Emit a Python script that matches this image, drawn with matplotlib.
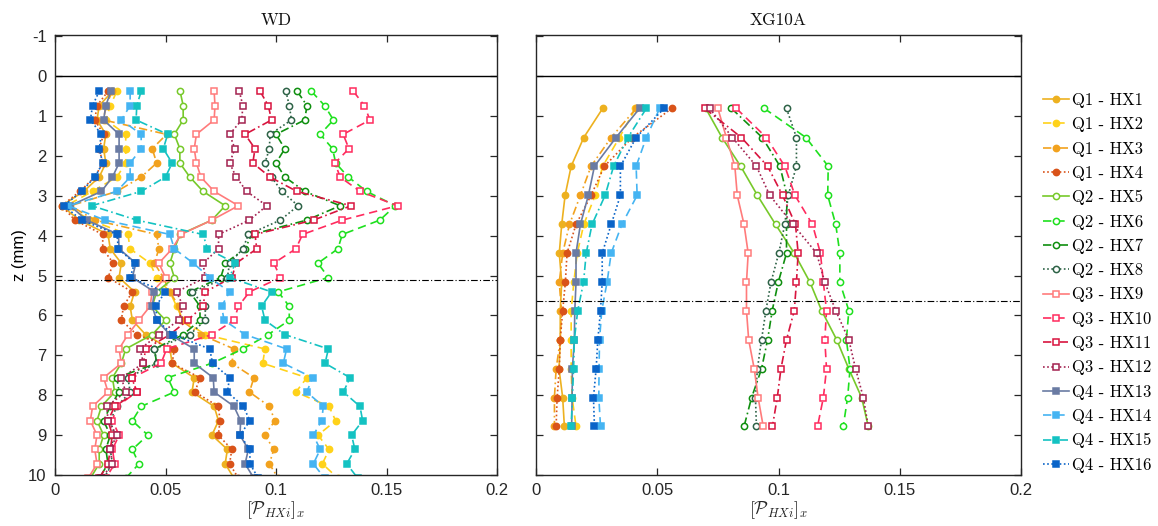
import matplotlib
matplotlib.use("Agg")
import matplotlib.pyplot as plt

plt.rcParams['mathtext.fontset'] = 'cm'
plt.rcParams['axes.unicode_minus'] = False

# ---------------- data ----------------
labels = ["Q1 - HX1", "Q1 - HX2", "Q1 - HX3", "Q1 - HX4",
          "Q2 - HX5", "Q2 - HX6", "Q2 - HX7", "Q2 - HX8",
          "Q3 - HX9", "Q3 - HX10", "Q3 - HX11", "Q3 - HX12",
          "Q4 - HX13", "Q4 - HX14", "Q4 - HX15", "Q4 - HX16"]

z_wd = [0.38, 0.74, 1.10, 1.46, 1.82, 2.18, 2.53, 2.89, 3.25, 3.61, 3.97, 4.33, 4.69, 5.05,
        5.41, 5.77, 6.12, 6.48, 6.84, 7.20, 7.56, 7.92, 8.28, 8.64, 9.00, 9.36, 9.72, 10.08]

wd_hx1 = [0.026, 0.020, 0.019, 0.023, 0.022, 0.023, 0.020, 0.013, 0.003, 0.011, 0.024, 0.025, 0.030, 0.029,
          0.036, 0.034, 0.035, 0.041, 0.052, 0.053, 0.063, 0.062, 0.072, 0.074, 0.071, 0.078, 0.077, 0.081]
wd_hx2 = [0.028, 0.025, 0.023, 0.032, 0.032, 0.032, 0.028, 0.017, 0.005, 0.016, 0.033, 0.034, 0.043, 0.046,
          0.052, 0.055, 0.058, 0.068, 0.095, 0.094, 0.114, 0.109, 0.124, 0.127, 0.119, 0.124, 0.121, 0.128]
wd_hx3 = [0.026, 0.023, 0.022, 0.0505, 0.044, 0.046, 0.039, 0.028, 0.007, 0.018, 0.046, 0.047, 0.045, 0.049,
          0.052, 0.056, 0.057, 0.066, 0.081, 0.080, 0.090, 0.088, 0.097, 0.0995, 0.095, 0.099, 0.097, 0.101]
wd_hx4 = [0.024, 0.019, 0.018, 0.022, 0.020, 0.0216, 0.018, 0.0113, 0.003, 0.009, 0.0216, 0.0216, 0.0264, 0.024,
          0.035, 0.031, 0.030, 0.037, 0.054, 0.053, 0.0656, 0.0633, 0.0739, 0.0747, 0.0739, 0.080, 0.079, 0.083]
wd_hx5 = [0.0566, 0.058, 0.058, 0.054, 0.0565, 0.0565, 0.061, 0.067, 0.077, 0.071, 0.0566, 0.054, 0.052, 0.054,
          0.046, 0.044, 0.050, 0.044, 0.032, 0.030, 0.026, 0.027, 0.021, 0.019, 0.022, 0.020, 0.020, 0.016]
wd_hx6 = [0.116, 0.122, 0.126, 0.120, 0.1256, 0.127, 0.1327, 0.141, 0.154, 0.147, 0.130, 0.128, 0.119, 0.1237,
          0.101, 0.106, 0.106, 0.0965, 0.085, 0.071, 0.051, 0.054, 0.039, 0.035, 0.042, 0.035, 0.038, 0.032]
wd_hx7 = [0.1096, 0.114, 0.113, 0.100, 0.104, 0.100, 0.104, 0.113, 0.129, 0.114, 0.089, 0.086, 0.077, 0.075,
          0.061, 0.0656, 0.0656, 0.058, 0.045, 0.046, 0.028, 0.029, 0.025, 0.022, 0.025, 0.023, 0.024, 0.020]
wd_hx8 = [0.1045, 0.106, 0.107, 0.0973, 0.097, 0.095, 0.098, 0.1026, 0.110, 0.102, 0.0875, 0.085, 0.079, 0.078,
          0.062, 0.068, 0.068, 0.061, 0.045, 0.046, 0.033, 0.034, 0.028, 0.025, 0.027, 0.025, 0.026, 0.022]
wd_hx9 = [0.072, 0.0724, 0.072, 0.064, 0.063, 0.064, 0.066, 0.072, 0.083, 0.071, 0.057, 0.053, 0.047, 0.050,
          0.044, 0.043, 0.038, 0.033, 0.029, 0.030, 0.022, 0.024, 0.017, 0.016, 0.019, 0.018, 0.019, 0.015]
wd_hx10 = [0.135, 0.140, 0.1425, 0.1304, 0.133, 0.1267, 0.129, 0.138, 0.155, 0.130, 0.112, 0.109, 0.099, 0.102,
           0.088, 0.083, 0.081, 0.071, 0.0505, 0.048, 0.035, 0.037, 0.028, 0.026, 0.029, 0.026, 0.027, 0.023]
wd_hx11 = [0.0928, 0.0965, 0.098, 0.086, 0.0905, 0.0895, 0.0973, 0.1094, 0.134, 0.117, 0.0905, 0.0913, 0.082, 0.080,
           0.068, 0.067, 0.060, 0.052, 0.041, 0.040, 0.0347, 0.037, 0.027, 0.024, 0.026, 0.025, 0.024, 0.020]
wd_hx12 = [0.0834, 0.085, 0.0845, 0.079, 0.0814, 0.079, 0.082, 0.0867, 0.0958, 0.088, 0.074, 0.074, 0.067, 0.068,
           0.055, 0.058, 0.056, 0.047, 0.0385, 0.040, 0.030, 0.032, 0.0234, 0.024, 0.028, 0.025, 0.026, 0.021]
wd_hx13 = [0.0253, 0.023, 0.022, 0.029, 0.029, 0.029, 0.026, 0.021, 0.0068, 0.0143, 0.0287, 0.029, 0.0366, 0.035,
           0.045, 0.044, 0.046, 0.052, 0.063, 0.063, 0.0716, 0.072, 0.081, 0.084, 0.0837, 0.0875, 0.086, 0.090]
wd_hx14 = [0.034, 0.034, 0.030, 0.039, 0.039, 0.034, 0.034, 0.028, 0.006, 0.0226, 0.052, 0.054, 0.0626, 0.070,
           0.079, 0.0754, 0.0765, 0.086, 0.1048, 0.1033, 0.1166, 0.1139, 0.1214, 0.1207, 0.1169, 0.120, 0.1169, 0.122]
wd_hx15 = [0.039, 0.037, 0.0367, 0.051, 0.049, 0.053, 0.050, 0.039, 0.0166, 0.037, 0.067, 0.069, 0.0815, 0.079,
           0.098, 0.0935, 0.095, 0.104, 0.1237, 0.1222, 0.1335, 0.1305, 0.138, 0.1392, 0.1342, 0.1357, 0.132, 0.137]
wd_hx16 = [0.020, 0.017, 0.016, 0.021, 0.020, 0.0216, 0.018, 0.012, 0.004, 0.012, 0.028, 0.0287, 0.036, 0.034,
           0.0498, 0.0457, 0.046, 0.0535, 0.070, 0.0713, 0.079, 0.078, 0.0852, 0.0882, 0.0837, 0.0882, 0.0882, 0.092]

z_xg = [0.81, 1.54, 2.26, 2.99, 3.72, 4.44, 5.17, 5.88, 6.61, 7.34, 8.06, 8.78]

xg_hx1 = [0.0275, 0.0197, 0.0145, 0.012, 0.0106, 0.0096, 0.0106, 0.0100, 0.0100, 0.0095, 0.0110, 0.0117]
xg_hx2 = [0.0410, 0.0344, 0.0275, 0.0244, 0.0197, 0.0170, 0.0156, 0.0145, 0.0145, 0.0145, 0.0149, 0.0165]
xg_hx3 = [0.0413, 0.0310, 0.0227, 0.0183, 0.0138, 0.0110, 0.0096, 0.0105, 0.0100, 0.0083, 0.0076, 0.0076]
xg_hx4 = [0.0560, 0.0397, 0.0282, 0.0227, 0.0165, 0.0128, 0.0121, 0.0110, 0.0100, 0.0096, 0.0087, 0.0083]
xg_hx5 = [0.0700, 0.0767, 0.0844, 0.0913, 0.0988, 0.1065, 0.1130, 0.1178, 0.1240, 0.1290, 0.1343, 0.1370]
xg_hx6 = [0.0941, 0.1113, 0.1205, 0.1203, 0.1236, 0.1253, 0.1253, 0.1290, 0.1280, 0.1295, 0.1285, 0.1267]
xg_hx7 = [0.0806, 0.0933, 0.1006, 0.1035, 0.1033, 0.1033, 0.0999, 0.0974, 0.0955, 0.0930, 0.0889, 0.0858]
xg_hx8 = [0.1033, 0.1074, 0.1074, 0.1040, 0.1026, 0.1001, 0.0969, 0.0948, 0.0930, 0.0913, 0.0905, 0.0909]
xg_hx9 = [0.0750, 0.0785, 0.0820, 0.0830, 0.0858, 0.0875, 0.0868, 0.0868, 0.0877, 0.0900, 0.0916, 0.0937]
xg_hx10 = [0.0826, 0.0950, 0.1026, 0.1068, 0.1140, 0.1173, 0.1185, 0.1198, 0.1191, 0.1198, 0.1185, 0.1161]
xg_hx11 = [0.0696, 0.0847, 0.0955, 0.1017, 0.1070, 0.1081, 0.1074, 0.1065, 0.1033, 0.1010, 0.0995, 0.0975]
xg_hx12 = [0.0716, 0.0810, 0.0909, 0.0964, 0.1060, 0.1157, 0.1191, 0.1236, 0.1290, 0.1318, 0.1350, 0.1370]
xg_hx13 = [0.0427, 0.0330, 0.0241, 0.0216, 0.0183, 0.0165, 0.0165, 0.0160, 0.0158, 0.0150, 0.0149, 0.0147]
xg_hx14 = [0.0510, 0.0455, 0.0413, 0.0417, 0.0354, 0.0310, 0.0293, 0.0271, 0.0262, 0.0260, 0.0259, 0.0266]
xg_hx15 = [0.0455, 0.0379, 0.0320, 0.0285, 0.0231, 0.0207, 0.0196, 0.0172, 0.0158, 0.0155, 0.0150, 0.0145]
xg_hx16 = [0.0528, 0.0413, 0.0348, 0.0348, 0.0310, 0.0273, 0.0273, 0.0266, 0.0255, 0.0248, 0.0237, 0.0241]

wd_series = [wd_hx1, wd_hx2, wd_hx3, wd_hx4, wd_hx5, wd_hx6, wd_hx7, wd_hx8,
             wd_hx9, wd_hx10, wd_hx11, wd_hx12, wd_hx13, wd_hx14, wd_hx15, wd_hx16]
xg_series = [xg_hx1, xg_hx2, xg_hx3, xg_hx4, xg_hx5, xg_hx6, xg_hx7, xg_hx8,
             xg_hx9, xg_hx10, xg_hx11, xg_hx12, xg_hx13, xg_hx14, xg_hx15, xg_hx16]

titles = ["WD", "XG10A"]
interface_z = [5.1, 5.63]
x_ticks = [0, 0.05, 0.1, 0.15, 0.2]
x_ticklabels = ["0", "0.05", "0.1", "0.15", "0.2"]
y_ticks = [-1, 0, 1, 2, 3, 4, 5, 6, 7, 8, 9, 10]
y_ticklabels = ["-1", "0", "1", "2", "3", "4", "5", "6", "7", "8", "9", "10"]

# ---------------- styles ----------------
colors = ["#EDB120", "#FFD21A", "#F2A21E", "#D95319",
          "#77C92A", "#1EE01E", "#0F8F0F", "#2E6347",
          "#FF7B7B", "#FF2B5E", "#D8143E", "#A32250",
          "#6A7BA3", "#45B4F2", "#14C2C2", "#0A64C8"]
linestyles = ["-", (0, (5, 3)), (0, (5, 2, 1, 2)), (0, (1, 1.5))] * 4
markers = ["o"] * 8 + ["s"] * 8
filled = [True] * 4 + [False] * 8 + [True] * 4

fig = plt.figure(figsize=(11.58, 5.26), dpi=100)
W, H = 1158.0, 526.0
ax1 = fig.add_axes([55 / W, 1 - 475 / H, (497 - 55) / W, (475 - 35) / H])
ax2 = fig.add_axes([536 / W, 1 - 475 / H, (1021 - 536) / W, (475 - 35) / H])

tickfont = dict(family="Liberation Sans", size=12)

handles = []
for ax, series, z, title, iz in [(ax1, wd_series, z_wd, titles[0], interface_z[0]),
                                 (ax2, xg_series, z_xg, titles[1], interface_z[1])]:
    for i, vals in enumerate(series):
        ms = 4.5 if markers[i] == "o" else 4.0
        mfc = colors[i] if filled[i] else "white"
        mec = colors[i]
        ln, = ax.plot(vals, z, color=colors[i], linestyle=linestyles[i], lw=1.2,
                      marker=markers[i], ms=ms, mfc=mfc, mec=mec, mew=1.1,
                      label=labels[i], clip_on=True)
        if ax is ax1:
            handles.append(ln)
    ax.axhline(0, color="black", lw=1.0)
    ax.axhline(iz, color="black", lw=0.8, linestyle=(0, (6, 2, 1, 2)))
    ax.set_xlim(0, 0.2)
    ax.set_ylim(10, -1.03)
    ax.set_xticks(x_ticks)
    ax.set_xticklabels(x_ticklabels, fontdict=tickfont)
    ax.set_yticks(y_ticks)
    ax.tick_params(direction="in", length=5, width=0.9, top=True, right=True,
                   colors="#262626", pad=6)
    for sp in ax.spines.values():
        sp.set_linewidth(1.0)
        sp.set_color("#262626")
    ax.set_title(title, family="cmr10", fontsize=12.5, pad=7, color="#111111")
    ax.set_xlabel(r"$[\mathcal{P}_{HXi}]_x$", fontsize=13, labelpad=1, color="#262626")

ax1.set_yticklabels(y_ticklabels, fontdict=tickfont)
ax2.set_yticklabels([])
ax1.set_ylabel("z (mm)", family="Liberation Sans", fontsize=12, labelpad=1)

leg = fig.legend(handles=handles, loc="upper left", bbox_to_anchor=(1036 / W, 1 - 86 / H),
                 frameon=False, prop=dict(family="cmr10", size=12), handlelength=1.6,
                 handletextpad=0.15, labelspacing=0.54, borderaxespad=0)

fig.savefig("out.png", dpi=100)
